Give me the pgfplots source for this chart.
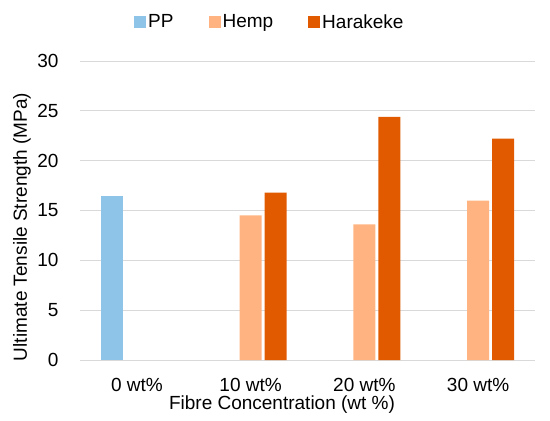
\documentclass[border=0pt]{standalone}
\usepackage{fontspec}
\setmainfont{Liberation Sans}
\usepackage{pgfplots}
\pgfplotsset{compat=1.18}
\definecolor{ppc}{HTML}{8EC4E8}
\definecolor{hempc}{HTML}{FFB380}
\definecolor{harc}{HTML}{E15A00}
\definecolor{gridc}{HTML}{D9D9D9}
\newcommand{\cf}{\fontsize{19pt}{22pt}\selectfont}
\begin{document}
\begin{tikzpicture}
\begin{axis}[
  scale only axis, width=455pt, height=299pt,
  xmin=-0.5, xmax=3.5, ymin=0, ymax=30,
  xtick={0,1,2,3}, xticklabels={0 wt\%,10 wt\%,20 wt\%,30 wt\%},
  ytick={0,5,...,30},
  ymajorgrids, grid style={gridc, line width=0.9pt},
  axis line style={draw=none},
  major tick length=0pt,
  /pgf/number format/assume math mode=true,
  ticklabel style={font=\cf, text=black},
  xticklabel style={anchor=center, yshift=-25pt},
  yticklabel style={anchor=east, xshift=-18pt},
  xlabel={Fibre Concentration (wt \%)},
  ylabel={Ultimate Tensile Strength (MPa)},
  every axis x label/.style={at={(axis description cs:0.444,-0.1505)}, anchor=center, font=\cf},
  every axis y label/.style={at={(axis description cs:-0.1275,0.445)}, anchor=center, rotate=90, font=\cf},
  legend columns=-1,
  legend style={at={(axis description cs:0.1187,1.130)}, anchor=west, draw=none, fill=none, inner sep=0pt, font=\cf,
    /tikz/every even column/.append style={column sep=33pt}},
  legend image code/.code={\fill[#1] (0pt,-6pt) rectangle (12pt,6pt);},
]
\addplot[ybar, bar width=22pt, bar shift=-25pt, fill=ppc, draw=none] coordinates {(0,16.5)};
\addplot[ybar, bar width=22pt, bar shift=0pt, fill=hempc, draw=none] coordinates {(1,14.5) (2,13.6) (3,16.0)};
\addplot[ybar, bar width=22pt, bar shift=25pt, fill=harc, draw=none] coordinates {(1,16.8) (2,24.4) (3,22.2)};
\legend{PP,Hemp,Harakeke}
\end{axis}
\pgfresetboundingbox
\path[use as bounding box] (-80pt,-61pt) rectangle (470pt,360pt);
\end{tikzpicture}
\end{document}
